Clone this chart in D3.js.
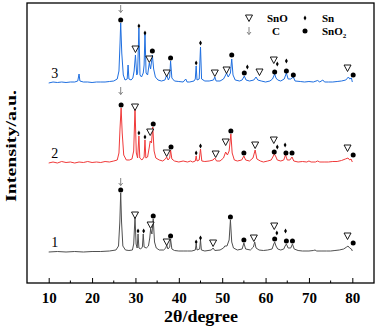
<!DOCTYPE html>
<html>
<head>
<meta charset="utf-8">
<script src="https://cdn.jsdelivr.net/npm/d3@7"></script>
<style>
  body { margin: 0; background: #fff; }
  svg { display: block; font-family: "Liberation Serif", "Times New Roman", serif; }
</style>
</head>
<body>
<svg id="chart"></svg>
<script>
// XRD patterns, [2theta, intensity above own baseline]
const sample1 = [[10,0],[12,0.5],[14,0],[16,0.5],[18,0],[20,0.5],[22,0.5],[24,1],[25.5,2],[26.1,6],[26.4,30],[26.6,59],[26.8,30],[27.1,6],[27.7,2],[28.5,1.5],[29.3,2],[29.6,8],[29.9,35],[30.15,8],[30.4,4],[30.6,18],[30.8,4],[31.2,3],[31.6,5],[31.8,18],[32.0,5],[32.5,4],[33.0,6],[33.3,14],[33.5,23],[33.8,18],[34.1,33],[34.4,10],[34.8,4],[35.5,2],[36.5,2],[37.0,4],[37.2,7],[37.5,3],[37.9,5],[38.1,13],[38.4,3],[39,1.5],[40,1],[41,1],[42,1],[43,1],[43.8,2],[44.0,8],[44.2,2],[44.8,3],[45.0,12],[45.2,2],[46,1],[47.5,2],[47.9,4],[48.3,1.5],[49.5,2],[50.3,4],[50.6,6],[51.1,6],[51.6,12],[51.9,32],[52.2,10],[52.6,4],[53.5,2],[54.6,3],[55.0,9],[55.4,3],[56.5,2],[57.2,5],[57.5,10],[57.8,4],[58.5,2],[59.5,1.5],[60.5,2],[61.5,3],[61.9,8],[62.1,10],[62.4,6],[62.8,3],[63.5,2],[64.2,3],[64.5,6],[64.8,8],[65.2,4],[65.8,4],[66.2,8],[66.6,3],[67.5,1.5],[68.5,1],[70,1],[71,1.5],[71.4,2],[71.8,1],[73,1],[74,1],[75,1],[76,1.5],[77,2],[78,3],[78.7,5],[79.0,6],[79.4,4],[79.8,3],[80,1]];

const sample2 = [[10,0],[11,1],[12,0],[13,1.5],[14,0.5],[15,1],[16,0],[17,1],[18,0.5],[19,1.5],[20,0.5],[21,1],[22,0.5],[23,1.5],[24,1],[25,2],[25.8,3],[26.2,10],[26.45,35],[26.7,55],[26.95,30],[27.3,8],[27.9,3],[28.6,3],[29.2,4],[29.6,12],[29.9,55],[30.2,10],[30.5,5],[30.8,27],[31.0,5],[31.5,3],[32.0,6],[32.2,23],[32.4,5],[32.8,6],[33.2,16],[33.4,22],[33.7,20],[34.0,36],[34.3,12],[34.7,5],[35.5,3],[36.3,2],[36.9,4],[37.2,6],[37.5,3],[37.9,5],[38.1,13],[38.4,4],[39,2],[40,1],[41,2],[42,1],[42.7,2],[43.2,1],[43.8,2],[44.0,7],[44.2,2],[44.7,3],[45.0,14],[45.3,2],[46,1.5],[47,2],[47.9,3],[48.3,5],[48.7,2],[49.5,2],[50.3,5],[50.8,11],[51.2,8],[51.6,12],[52.0,29],[52.3,10],[52.8,3],[53.5,2],[54.5,3],[55.0,7],[55.4,3],[56.3,2],[57.1,5],[57.6,13],[58.0,4],[58.8,2],[59.5,1],[60.5,2],[61.3,3],[61.8,7],[62.0,9],[62.3,7],[62.7,3],[63.5,2],[64.2,3],[64.6,8],[65.0,3],[65.6,3],[66.1,6],[66.5,2],[67.5,1],[68.5,1.5],[69.5,1],[70,2],[70.5,1],[71.5,1],[72,2],[72.5,1],[73.5,1],[74.5,1],[75.5,1.5],[76.5,1.5],[77.5,2.5],[78.4,4],[79.0,5],[79.4,3],[79.7,4],[80,1]];

const sample3 = [[10,0],[11,1],[12,0.5],[13,1],[14,0.5],[15,1],[16,1],[16.7,2],[17.0,9],[17.2,2],[18,1],[19,1],[20,0.5],[21,1],[22,1],[23,1],[24,1.5],[25,2],[25.8,4],[26.2,12],[26.45,40],[26.6,60],[26.85,30],[27.2,8],[27.6,3],[28.1,4],[28.3,18],[28.5,4],[29.0,3],[29.4,5],[29.7,12],[30.0,28],[30.3,8],[30.5,10],[30.8,55],[31.05,8],[31.4,6],[31.8,10],[32.0,18],[32.2,50],[32.45,10],[32.8,8],[33.2,20],[33.5,14],[33.9,28],[34.2,14],[34.6,6],[35.2,3],[36,2],[36.8,3],[37.2,8],[37.6,3],[37.9,6],[38.1,22],[38.4,5],[39,2],[40,1.5],[41,1],[41.6,4],[41.9,1],[42.5,1],[43.5,2],[43.8,4],[44.0,17],[44.2,3],[44.7,4],[45.0,36],[45.25,4],[46,2],[47,2],[48.0,3],[48.3,6],[48.6,2],[49.5,2],[50.3,4],[50.8,8],[51.0,10],[51.4,6],[51.9,10],[52.2,24],[52.5,8],[53,3],[54,2],[54.6,3],[55.1,7],[55.5,3],[56.3,2],[57.3,3],[57.8,6],[58.2,3],[59,2],[60,1],[61,2],[61.6,4],[62.1,9],[62.4,5],[62.8,3],[63.5,2],[64.3,4],[64.8,10],[65.2,4],[65.8,4],[66.4,6],[66.8,2],[68,1.5],[69,1],[70,1.5],[71,1],[72,2.5],[72.5,1],[73.2,3],[73.6,1],[74.5,1],[75.5,1],[76.5,1.5],[77.5,2],[78.5,3],[79.1,6],[79.4,4],[79.8,5],[80,1]];

// phase markers: [phase, 2theta, level above baseline]
const marks1 = [["C",26.6,70],["SnO2",26.6,62],["SnO",29.9,37],["Sn",30.6,21],["Sn",31.9,21],["SnO",33.5,27],["SnO2",34.1,36],["SnO",37.2,10],["SnO2",38.1,16],["Sn",44.0,10],["Sn",45.0,14],["SnO",47.9,9],["SnO2",51.9,35],["SnO2",55.0,12],["SnO",57.3,14],["SnO",62.0,26],["Sn",62.6,19],["SnO2",62.1,13],["Sn",64.6,21],["SnO2",64.8,11],["SnO2",66.2,11],["SnO",78.9,16],["SnO2",80.2,9]];
const marks2 = [["C",26.6,72],["SnO2",26.7,58],["SnO",29.9,56],["Sn",30.8,30],["Sn",32.2,26],["SnO",33.4,31],["SnO2",34.1,39],["SnO",37.2,10],["SnO2",38.2,16],["Sn",44.0,10],["Sn",45.0,17],["SnO",48.5,9],["SnO",50.8,21],["SnO2",52.0,32],["SnO2",55.0,10],["SnO",57.6,18],["SnO",61.9,23],["Sn",62.7,16],["SnO2",62.0,11],["Sn",64.5,18],["SnO2",64.7,10],["SnO2",66.1,10],["SnO",78.9,15],["SnO2",80.2,8]];
const marks3 = [["C",26.6,74],["SnO2",26.6,63],["SnO",30.0,34],["Sn",30.8,57],["Sn",32.2,50],["SnO",33.2,24],["SnO2",33.9,32],["SnO",37.2,10],["SnO2",38.1,25],["Sn",44.0,20],["Sn",45.0,40],["SnO",48.3,10],["SnO",51.0,13],["SnO2",52.2,28],["SnO2",55.1,10],["Sn",55.8,16],["SnO",58.6,11],["SnO",61.9,23],["Sn",62.7,19],["SnO2",62.1,11],["Sn",64.8,22],["SnO2",64.8,12],["SnO2",66.4,8],["SnO",78.9,15],["SnO2",80.2,8]];

const sampleNames = ["1", "2", "3"];
const offsets = [31, 120, 200];
const colors = ["#505050", "#f03a3a", "#1f6fe0"];
const xTicks = [10, 20, 30, 40, 50, 60, 70, 80];
const legendRows = [["SnO", "Sn"], ["C", "SnO2"]];

const svgWidth = 377, svgHeight = 328;
const margin = { top: 3, right: 3, bottom: 45, left: 27 };
const width = svgWidth - margin.left - margin.right;
const height = svgHeight - margin.top - margin.bottom;

const svg = d3.select("#chart")
    .attr("width", svgWidth)
    .attr("height", svgHeight)
    .append("g")
    .attr("transform", `translate(${margin.left}, ${margin.top})`);

const x = d3.scaleLinear().domain([5, 85]).range([0, width]);
const y = d3.scaleLinear().domain([0, 280]).range([height, 0]);

// frame
svg.append("rect")
    .attr("width", width).attr("height", height)
    .attr("fill", "none").attr("stroke", "#000").attr("stroke-width", 1.3);

// bottom axis, ticks inside
const xAxis = d3.axisBottom(x).tickValues(xTicks).tickSizeInner(-5).tickSizeOuter(0).tickPadding(9);
const gx = svg.append("g").attr("transform", `translate(0, ${height})`).call(xAxis);
gx.select(".domain").remove();
gx.selectAll("line").attr("stroke-width", 1);
gx.selectAll("text")
    .attr("font-family", "Liberation Serif, serif")
    .attr("font-weight", "bold").attr("font-size", 15).attr("fill", "#000");
const minor = d3.range(15, 85, 10);
svg.append("g").selectAll("line").data(minor).join("line")
    .attr("x1", d => x(d)).attr("x2", d => x(d))
    .attr("y1", height).attr("y2", height - 2.5)
    .attr("stroke", "#000");

// titles
svg.append("text")
    .attr("x", 201 - margin.left).attr("y", 322 - margin.top)
    .attr("text-anchor", "middle").attr("font-weight", "bold").attr("font-size", 16)
    .attr("textLength", 74).attr("lengthAdjust", "spacingAndGlyphs")
    .text("2θ/degree");
svg.append("text")
    .attr("transform", `translate(${16 - margin.left}, ${146 - margin.top}) rotate(-90)`)
    .attr("text-anchor", "middle").attr("font-weight", "bold").attr("font-size", 15)
    .attr("textLength", 112).attr("lengthAdjust", "spacingAndGlyphs")
    .text("Intensity/a.u.");

// traces
const traces = [sample1, sample2, sample3];
const marks = [marks1, marks2, marks3];
const line = d3.line().x(d => x(d[0])).y(d => y(d[1]));

// marker drawing
function drawMark(g, type, cx, cy) {
    if (type === "SnO") {
        g.append("path")
            .attr("d", `M${cx - 3.5},${cy - 3} L${cx + 3.5},${cy - 3} L${cx},${cy + 3.5} Z`)
            .attr("fill", "#fff").attr("stroke", "#000").attr("stroke-width", 0.9);
    } else if (type === "Sn") {
        g.append("path")
            .attr("d", d3.symbol(d3.symbolDiamond, 7)())
            .attr("transform", `translate(${cx}, ${cy})`)
            .attr("fill", "#000");
    } else if (type === "SnO2") {
        g.append("circle").attr("cx", cx).attr("cy", cy).attr("r", 2.5).attr("fill", "#000");
    } else if (type === "C") {
        g.append("path")
            .attr("d", `M${cx},${cy - 4} L${cx},${cy + 3.5} M${cx - 2},${cy + 1} L${cx},${cy + 3.5} L${cx + 2},${cy + 1}`)
            .attr("fill", "none").attr("stroke", "#777").attr("stroke-width", 0.9);
    }
}

traces.forEach((data, i) => {
    svg.append("path")
        .datum(data.map(d => [d[0], d[1] + offsets[i]]))
        .attr("d", line)
        .attr("fill", "none")
        .attr("stroke", colors[i])
        .attr("stroke-width", 1)
        .attr("stroke-linejoin", "round");

    svg.append("text")
        .attr("x", x(10.6)).attr("y", y(offsets[i] + 5))
        .attr("font-size", 14)
        .text(sampleNames[i]);

    const g = svg.append("g");
    marks[i].forEach(m => drawMark(g, m[0], x(m[1]), y(m[2] + offsets[i])));
});

// legend
const legend = svg.append("g").attr("transform", `translate(${-margin.left}, ${-margin.top})`);
const legendSymX = [249, 305];
const legendTextX = [267, 322];
const legendY = [18, 31];
legendRows.forEach((row, r) => {
    row.forEach((name, c) => {
        drawMark(legend, name, legendSymX[c], legendY[r]);
        const t = legend.append("text")
            .attr("x", name === "C" ? legendTextX[c] + 5 : legendTextX[c])
            .attr("y", legendY[r] + 4)
            .attr("font-weight", "bold").attr("font-size", 11);
        if (name === "SnO2") {
            t.append("tspan").text("SnO");
            t.append("tspan").attr("font-size", 7).attr("dy", 3).text("2");
        } else {
            t.text(name);
        }
    });
});
</script>
</body>
</html>
